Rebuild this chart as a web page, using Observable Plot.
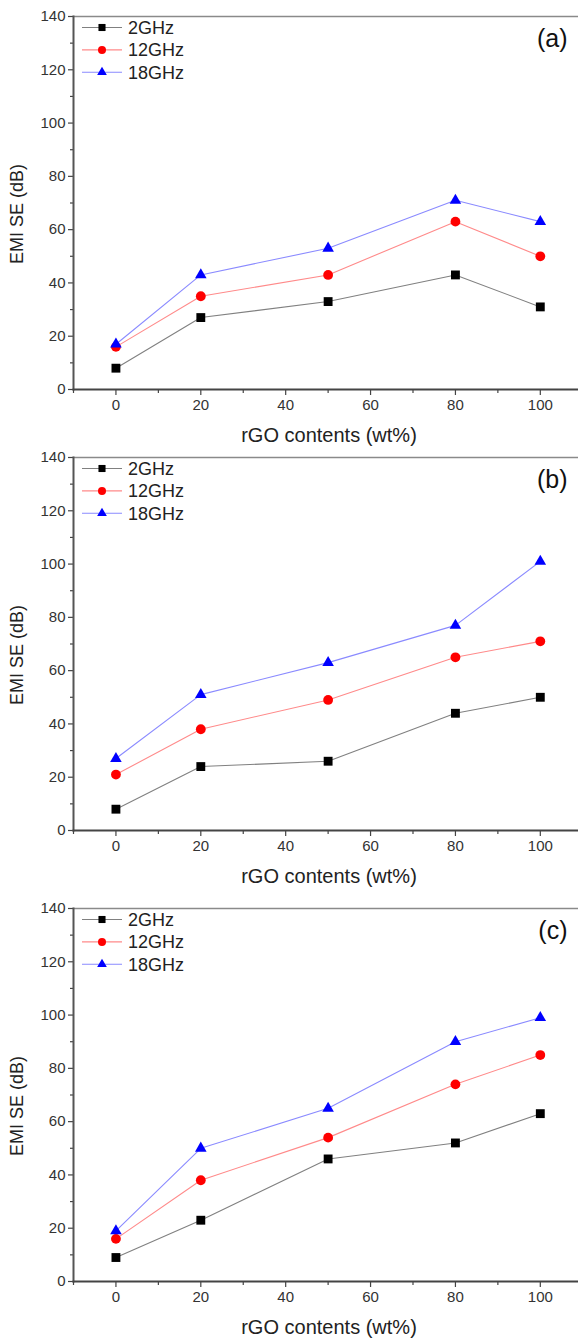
<!DOCTYPE html>
<html><head><meta charset="utf-8">
<script src="https://cdn.jsdelivr.net/npm/d3@7"></script>
<script src="https://cdn.jsdelivr.net/npm/@observablehq/plot@0.6"></script>
<style>
body{margin:0;background:#fff;}
#wrap{position:relative;width:578px;height:1338px;overflow:hidden;background:#fff;}
.panel{position:absolute;left:0;}
</style>
</head><body><div id="wrap"></div>
<script>
// ---- data ----
const contents = [0, 20, 50, 80, 100];           // rGO contents (wt%)
const series = ["2GHz", "12GHz", "18GHz"];
const panelLabels = ["(a)", "(b)", "(c)"];
const a2GHz  = [8, 27, 33, 43, 31];
const a12GHz = [16, 35, 43, 63, 50];
const a18GHz = [17, 43, 53, 71, 63];
const b2GHz  = [8, 24, 26, 44, 50];
const b12GHz = [21, 38, 49, 65, 71];
const b18GHz = [27, 51, 63, 77, 101];
const c2GHz  = [9, 23, 46, 52, 63];
const c12GHz = [16, 38, 54, 74, 85];
const c18GHz = [19, 50, 65, 90, 99];
const yMajorTicks = [0, 20, 40, 60, 80, 100, 120, 140];
const yMinorTicks = [10, 30, 50, 70, 90, 110, 130];
const xMajorTicks = [0, 20, 40, 60, 80, 100];
const xMinorTicks = [-10, 10, 30, 50, 70, 90];
const xLabel = "rGO contents (wt%)";
const yLabel = "EMI SE (dB)";

const panels = [
  {label: panelLabels[0], values: [a2GHz, a12GHz, a18GHz], top: 0, height: 441},
  {label: panelLabels[1], values: [b2GHz, b12GHz, b18GHz], top: 441, height: 451},
  {label: panelLabels[2], values: [c2GHz, c12GHz, c18GHz], top: 892, height: 446}
];

const markerColor = {"2GHz": "#000000", "12GHz": "#ff0000", "18GHz": "#0000ff"};
const lineColor = {"2GHz": "#808080", "12GHz": "#ff8a8a", "18GHz": "#8a8aff"};
const symbolOf = {"2GHz": "square", "12GHz": "circle", "18GHz": "triangle"};
const rOf = {"2GHz": 5.0, "12GHz": 4.9, "18GHz": 4.3};
const font = "Liberation Sans, Arial, Helvetica, sans-serif";

const wrap = document.getElementById("wrap");

panels.forEach(p => {
  const rows = [];
  series.forEach((s, si) => contents.forEach((c, i) => rows.push({series: s, x: c, y: p.values[si][i]})));
  const marginTop = 16, plotH = 373;
  const chart = Plot.plot({
    width: 578,
    height: p.height,
    marginLeft: 73,
    marginRight: 0,
    marginTop,
    marginBottom: p.height - marginTop - plotH,
    style: {fontFamily: font, background: "none", overflow: "visible"},
    x: {domain: [-10, 109], label: null},
    y: {domain: [0, 140], label: null},
    marks: [
      Plot.frame({anchor: "top", stroke: "#8a8a8a", strokeWidth: 1.6}),
      ...series.map(s => Plot.line(rows.filter(d => d.series === s), {x: "x", y: "y", stroke: lineColor[s], strokeWidth: 1.1})),
      ...series.map(s => Plot.dot(rows.filter(d => d.series === s), {x: "x", y: "y", symbol: () => symbolOf[s], r: rOf[s], fill: markerColor[s], stroke: "none"})),
      Plot.axisY({ticks: yMajorTicks, tickSize: 5, tickPadding: 3, fontSize: 15, stroke: "#444", fill: "#333", label: null, strokeWidth: 1.2}),
      Plot.axisY({ticks: yMinorTicks, tickSize: 3, text: null, stroke: "#444", label: null, strokeWidth: 1.2}),
      Plot.axisX({ticks: xMajorTicks, tickSize: 6, tickPadding: 4, fontSize: 15, stroke: "#444", fill: "#333", label: null, strokeWidth: 1.2}),
      Plot.axisX({ticks: xMinorTicks, tickSize: 4, text: null, stroke: "#444", label: null, strokeWidth: 1.2}),
      Plot.frame({anchor: "left", stroke: "#555", strokeWidth: 2}),
      Plot.frame({anchor: "bottom", stroke: "#444", strokeWidth: 2}),
      Plot.text([xLabel], {frameAnchor: "bottom", text: d => d, dx: 3, dy: 46, lineAnchor: "middle", fontSize: 20, fill: "#222"}),
      Plot.text([yLabel], {frameAnchor: "left", text: d => d, rotate: -90, dx: -56, dy: 11, lineAnchor: "middle", textAnchor: "middle", fontSize: 18, fill: "#222"}),
      Plot.text([p.label], {frameAnchor: "top-right", text: d => d, dx: -11, dy: 22, lineAnchor: "middle", textAnchor: "end", fontSize: 25, fill: "#111"})
    ]
  });
  // legend (Origin-style, top-left inside the frame)
  const svg = d3.select(chart);
  const lg = svg.append("g").attr("font-family", font).attr("text-anchor", "start");
  series.forEach((s, i) => {
    const yy = marginTop + 11.5 + i * 22.4;
    lg.append("line").attr("x1", 82).attr("x2", 122).attr("y1", yy).attr("y2", yy)
      .attr("stroke", lineColor[s]).attr("stroke-width", 1.1);
    const sym = {square: d3.symbolSquare, circle: d3.symbolCircle, triangle: d3.symbolTriangle}[symbolOf[s]];
    const size = Math.PI * (s === "18GHz" ? 3.6 : 4.0) ** 2;
    lg.append("path").attr("d", d3.symbol(sym, size)()).attr("transform", `translate(102,${yy})`)
      .attr("fill", markerColor[s]);
    lg.append("text").attr("x", 128).attr("y", yy).attr("dy", "0.35em")
      .attr("text-anchor", "start")
      .attr("font-size", 18).attr("fill", "#222").text(s);
  });
  const div = document.createElement("div");
  div.className = "panel";
  div.style.top = p.top + "px";
  div.appendChild(chart);
  wrap.appendChild(div);
});
</script>
</body></html>
